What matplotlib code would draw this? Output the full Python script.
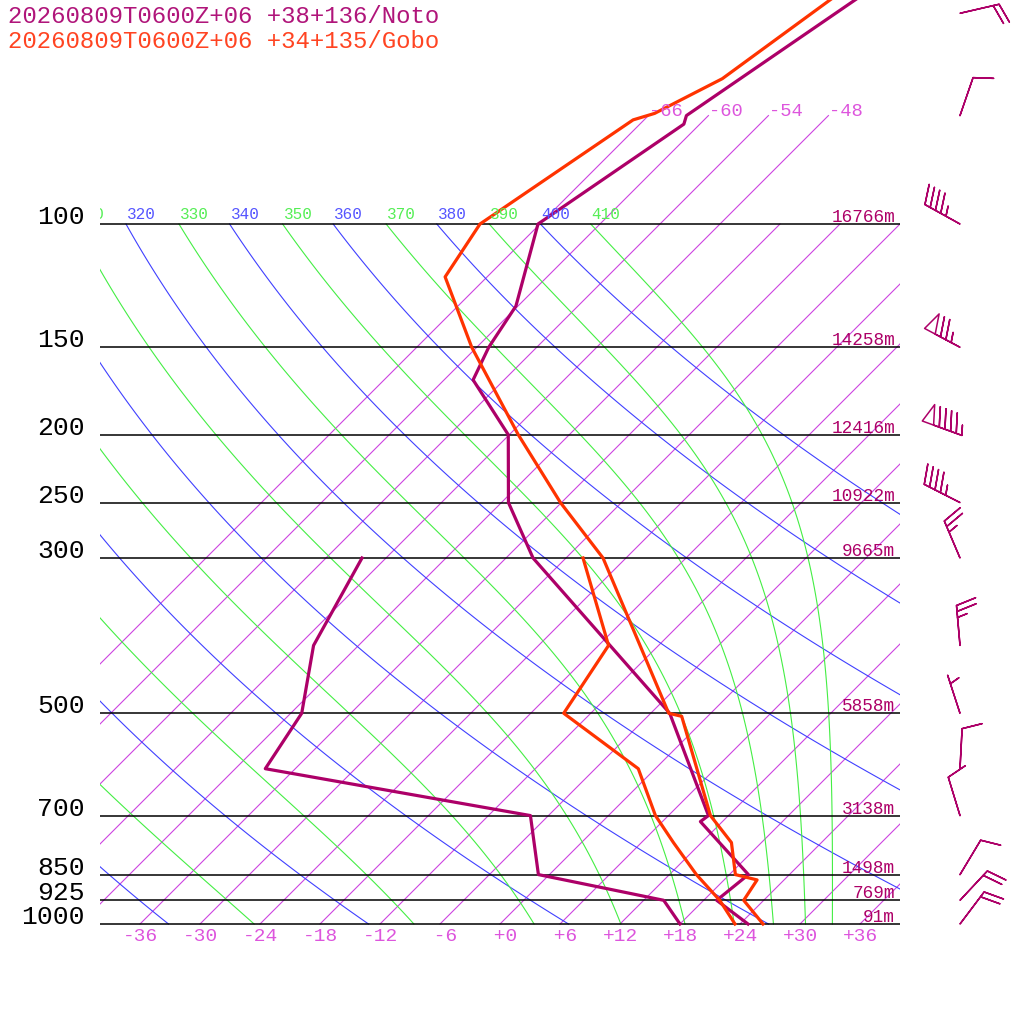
import numpy as np
import matplotlib
matplotlib.use("Agg")
import matplotlib.pyplot as plt
from matplotlib.transforms import offset_copy

# ---- soundings (pressure hPa, temperature degC) ----
noto_p_t = [1000, 925, 850, 714, 700, 500, 300, 250, 200, 167, 150, 131, 100, 72, 70, 40]
noto_t = [24.8, 19.3, 19.9, 9.8, 10.0, -4.1, -33.3, -41.3, -48.1, -57.1, -58.8, -60.2,
          -66.2, -61.6, -62.2, -54.4]
noto_p_td = [1000, 925, 850, 700, 600, 500, 400, 300]
noto_td = [18.0, 14.0, -1.1, -7.8, -39.0, -40.9, -46.5, -50.4]

gobo_p_t = [1000, 925, 865, 850, 765, 700, 505, 500, 300, 250, 200, 150, 119, 100,
            71, 69.5, 62, 40]
gobo_t = [26.3, 22.0, 21.3, 18.6, 15.0, 10.2, -2.6, -4.2, -26.3, -36.1, -47.1, -60.5,
          -70.2, -72.0, -67.1, -65.6, -62.3, -57.4]
gobo_p_td = [1000, 925, 850, 765, 700, 600, 500, 400, 300]
gobo_td = [23.5, 19.6, 14.7, 9.2, 4.7, -1.7, -14.7, -17.0, -28.3]

# ---- winds (Noto) ----
wind_p = [50, 70, 100, 150, 200, 250, 300, 400, 500, 600, 700, 850, 925, 1000]
wind_dir = [77, 19, 299, 298, 290, 297, 337, 355, 342, 3, 343, 31, 43, 37]
wind_spd = [20, 10, 45, 75, 95, 45, 25, 25, 5, 10, 10, 10, 20, 20]

# ---- isobars / heights ----
levels = [100, 150, 200, 250, 300, 500, 700, 850, 925, 1000]
level_labels = ["100", "150", "200", "250", "300", "500", "700", "850", "925", "1000"]
heights = ["16766m", "14258m", "12416m", "10922m", "9665m", "5858m", "3138m",
           "1498m", "769m", "91m"]

# ---- background lines ----
isotherms = list(range(-66, 37, 6))
strat_isotherms = [-66, -60, -54, -48]
bottom_ticks = list(range(-36, 37, 6))
thetas = list(range(240, 401, 20))
theta_es = list(range(250, 411, 20))
first_label = 310  # lines below this are labelled off the chart

titles = ["20260809T0600Z+06 +38+136/Noto", "20260809T0600Z+06 +34+135/Gobo"]

noto_col = "#ad0068"
gobo_col = "#ff3300"
iso_col = "#cc44e0"
dry_col = "#4040ff"
moist_col = "#44ee44"
FONT = "Liberation Mono"
SKEW = 70.0


def skew_x(t, p):
    return np.asarray(t, float) + SKEW * np.log10(1000.0 / np.asarray(p, float))


def moist_t(te, p):
    lo = np.full_like(p, 150.0)
    hi = np.full_like(p, 330.0)
    for _ in range(60):
        mid = 0.5 * (lo + hi)
        es = 6.112 * np.exp(17.67 * (mid - 273.15) / (mid - 29.65))
        r = np.minimum(622.0 * es / np.maximum(p - es, 1e-3), 200.0)
        th = mid * (1000.0 / p) ** (0.2854 * (1 - 0.28e-3 * r)) * \
            np.exp((3.376 / mid - 0.00254) * r * (1 + 0.81e-3 * r))
        big = th > te
        hi = np.where(big, mid, hi)
        lo = np.where(big, lo, mid)
    return 0.5 * (lo + hi) - 273.15


fig = plt.figure(figsize=(10.24, 10.24), dpi=100)
ax = fig.add_axes([100 / 1024, 0, 800 / 1024, 1])
ax.set_yscale("log")
ax.set_xlim(-40, 40)
ax.set_ylim(1000 * 10 ** (100 / 700), 1000 * 10 ** (-924 / 700))
ax.axis("off")


def shifted(dx, dy):
    return offset_copy(ax.transData, fig=fig, x=dx, y=dy, units="dots")


# isotherms
for t in isotherms:
    top = 70 if t in strat_isotherms else 100
    pp = np.array([1000.0, top])
    ax.plot(skew_x(t, pp), pp, color=iso_col, lw=0.8)
for t in strat_isotherms:
    ax.text(skew_x(t, 70), 70, str(t), color="#dd55dd", fontsize=13.5, family=FONT,
            ha="left", va="baseline", transform=shifted(1, 0))

pp = np.logspace(3, 2, 120)
# dry adiabats
for th in thetas:
    tt = th * (pp / 1000.0) ** 0.2857 - 273.15
    ax.plot(skew_x(tt, pp), pp, color=dry_col, lw=0.8)
    if th >= first_label:
        ax.text(skew_x(tt[-1], 100), 100, str(th), color="#5555ff", fontsize=11.5,
                family=FONT, ha="left", va="baseline", transform=shifted(1, 5),
                clip_on=True)
# pseudo adiabats
for te in theta_es:
    tt = moist_t(te, pp)
    ax.plot(skew_x(tt, pp), pp, color=moist_col, lw=0.8)
    if te >= first_label:
        ax.text(skew_x(tt[-1], 100), 100, str(te), color="#55ee55", fontsize=11.5,
                family=FONT, ha="left", va="baseline", transform=shifted(1, 5),
                clip_on=True)

# isobars
ax.hlines(levels, -40, 40, color="black", lw=1.1)
for p, lab, h in zip(levels, level_labels, heights):
    ax.text(-41.5, p, lab, fontsize=19, family=FONT, ha="right", va="baseline",
            clip_on=False, transform=shifted(0, 0))
    ax.text(39.5, p, h, fontsize=12.8, family=FONT, color=noto_col, ha="right",
            va="baseline", transform=shifted(0, 2))

for t in bottom_ticks:
    ax.text(t, 1000, f"{t:+3d}", fontsize=14, family=FONT, color="#dd55dd",
            ha="center", va="top", clip_on=False, transform=shifted(0, -4))

# soundings
ax.plot(skew_x(noto_td, noto_p_td), noto_p_td, color=noto_col, lw=2.3)
ax.plot(skew_x(noto_t, noto_p_t), noto_p_t, color=noto_col, lw=2.3)
ax.plot(skew_x(gobo_td, gobo_p_td), gobo_p_td, color=gobo_col, lw=2.3)
ax.plot(skew_x(gobo_t, gobo_p_t), gobo_p_t, color=gobo_col, lw=2.3)

# wind barbs
wd = np.radians(wind_dir)
spd = np.array(wind_spd, float)
u = -spd * np.sin(wd)
v = -spd * np.cos(wd)
ax.barbs(np.full(len(wind_p), 46.0), wind_p, u, v, length=7.6, linewidth=1.1,
         barbcolor=noto_col, flagcolor="none", clip_on=False,
         sizes=dict(spacing=0.15, height=0.49, width=0.3, emptybarb=0.0))

fig.text(8 / 1024, 1 - 23 / 1024, titles[0], color="#b0157a", fontsize=17.3,
         family=FONT, va="baseline")
fig.text(8 / 1024, 1 - 48 / 1024, titles[1], color="#ff4422", fontsize=17.3,
         family=FONT, va="baseline")

fig.savefig("out.png", dpi=100)
